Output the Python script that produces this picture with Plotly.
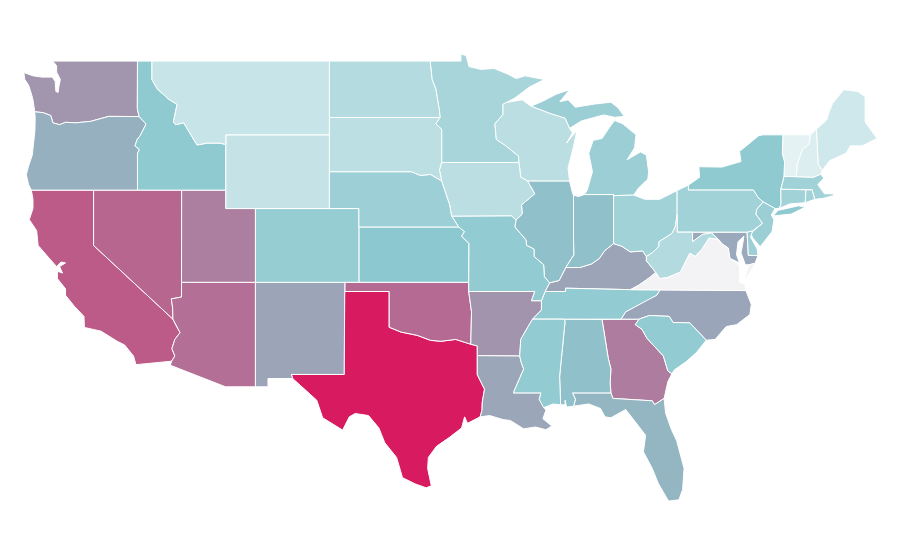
import plotly.graph_objects as go
from plotly.colors import sample_colorscale

states = ["TX","CA","NV","AZ","OK","UT","GA","WA","AR","KY","NM","NC","LA","MD","OR","FL","IL","IN","AL","KS","ID","NY","TN","MS","SC","MO","CO","NJ","MI","DE","NE","OH","PA","CT","RI","MA","MN","WV","ND","WI","IA","SD","WY","MT","ME","NH","VT","VA"]
values = [100,72.7,67.5,63.6,65.8,57,58,47,47.5,40.6,40.6,40,39.7,38.5,35.4,33,28.5,28.5,28.5,25,23.9,23.9,23.4,23.4,23.4,23.4,22.3,21.2,21.2,20.6,20.6,19.5,19.5,19.5,19.5,19.5,17.9,15.1,14.6,13,13,12.4,10.2,9.7,7.5,4.2,2,0]

colorscale = [[0,"#f3f3f5"],[0.02,"#e4f2f4"],[0.25,"#8cc8cf"],[1,"#d81b60"]]

# state outlines, lon/lat. the cdn topojson can't be loaded here so they are kept in the file
outlines = {
"WA":[[(-117.03,49),(-117.04,46.42),(-116.92,45.99),(-118.98,46),(-119.3,45.93),(-120.2,45.73),(-121.2,45.65),(-121.9,45.68),(-122.3,45.55),(-122.75,45.65),(-122.9,46.05),(-123.4,46.2),(-123.98,46.25),(-124.05,46.7),(-124.1,46.9),(-124.2,47.2),(-124.4,47.7),(-124.65,48),(-124.72,48.38),(-124.1,48.2),(-123.5,48.13),(-122.8,48.13),(-122.6,47.9),(-122.55,47.35),(-122.4,47.3),(-122.35,47.6),(-122.25,48),(-122.5,48.4),(-122.5,48.75),(-122.76,49)]],
"OR":[[(-123.98,46.25),(-123.95,45.9),(-123.97,45.2),(-124.07,44.6),(-124.15,43.9),(-124.4,43.3),(-124.55,42.84),(-124.4,42.3),(-124.21,42),(-117.03,42),(-117.03,44),(-116.9,44.2),(-117.2,44.4),(-117.05,44.75),(-116.85,44.95),(-116.5,45.5),(-116.47,45.6),(-116.7,45.8),(-116.92,45.99),(-118.98,46),(-119.3,45.93),(-120.2,45.73),(-121.2,45.65),(-121.9,45.68),(-122.3,45.55),(-122.75,45.65),(-122.9,46.05),(-123.4,46.2)]],
"CA":[[(-124.21,42),(-124.1,41.5),(-124.1,41),(-124.35,40.4),(-123.85,39.8),(-123.75,39),(-123,38.3),(-122.5,37.85),(-122.2,38.1),(-121.9,38.05),(-122.3,37.85),(-122.1,37.5),(-122.45,37.6),(-122.45,37.2),(-121.9,36.65),(-121.9,36.3),(-121.3,35.7),(-120.65,35.15),(-120.62,34.55),(-119.5,34.35),(-118.8,34),(-118.4,33.8),(-117.9,33.6),(-117.3,33),(-117.13,32.53),(-114.72,32.72),(-114.5,33),(-114.7,33.4),(-114.5,33.9),(-114.15,34.27),(-114.45,34.7),(-114.63,35),(-120,39),(-120,42)]],
"NV":[[(-120,42),(-120,39),(-114.63,35),(-114.65,35.6),(-114.74,36.1),(-114.05,36.2),(-114.05,37),(-114.04,42)]],
"AZ":[[(-114.05,37),(-114.05,36.2),(-114.74,36.1),(-114.65,35.6),(-114.63,35),(-114.45,34.7),(-114.15,34.27),(-114.5,33.9),(-114.7,33.4),(-114.5,33),(-114.72,32.72),(-114.81,32.5),(-111.07,31.33),(-109.05,31.33),(-109.05,37)]],
"UT":[[(-114.04,42),(-111.05,42),(-111.05,41),(-109.05,41),(-109.05,37),(-114.05,37)]],
"ID":[[(-117.03,49),(-116.05,49),(-116.05,48),(-115.7,47.5),(-114.95,46.95),(-114.35,46.65),(-114.6,45.7),(-114.45,45.55),(-113.9,45.65),(-113.45,45.05),(-113,44.45),(-112.3,44.55),(-111.5,44.55),(-111.05,44.48),(-111.05,42),(-117.03,42),(-117.03,44),(-116.9,44.2),(-117.2,44.4),(-117.05,44.75),(-116.85,44.95),(-116.5,45.5),(-116.47,45.6),(-116.7,45.8),(-116.92,45.99),(-117.04,46.42)]],
"MT":[[(-116.05,49),(-104.05,49),(-104.05,45),(-111.05,45),(-111.05,44.48),(-111.5,44.55),(-112.3,44.55),(-113,44.45),(-113.45,45.05),(-113.9,45.65),(-114.45,45.55),(-114.6,45.7),(-114.35,46.65),(-114.95,46.95),(-115.7,47.5),(-116.05,48)]],
"WY":[[(-111.05,45),(-104.05,45),(-104.05,41),(-111.05,41)]],
"CO":[[(-109.05,41),(-102.05,41),(-102.05,37),(-109.05,37)]],
"NM":[[(-109.05,37),(-103,37),(-103.05,32),(-106.62,32),(-106.53,31.78),(-108.2,31.78),(-108.2,31.33),(-109.05,31.33)]],
"TX":[[(-103.04,36.5),(-100,36.5),(-100,34.56),(-99.2,34.3),(-98.1,34.12),(-97.2,33.85),(-96.5,33.8),(-95.5,33.9),(-94.48,33.64),(-94.04,33.55),(-94.04,33.02),(-94.04,31.99),(-93.55,31.2),(-93.7,30.5),(-93.72,30.05),(-93.85,29.7),(-94.7,29.35),(-94.9,29.7),(-95.1,29.1),(-95.9,28.6),(-96.8,28.1),(-97.35,27.5),(-97.4,26.9),(-97.15,25.96),(-97.5,25.85),(-98.2,26.05),(-99.1,26.4),(-99.5,27.5),(-100.3,28.3),(-100.7,29.1),(-101.4,29.77),(-102.3,29.88),(-102.7,29.7),(-103.15,28.98),(-104.5,29.65),(-104.9,30.6),(-106,31.4),(-106.53,31.78),(-106.62,32),(-103.05,32)]],
"OK":[[(-103,37),(-94.62,37),(-94.62,36.5),(-94.43,35.4),(-94.48,33.64),(-95.5,33.9),(-96.5,33.8),(-97.2,33.85),(-98.1,34.12),(-99.2,34.3),(-100,34.56),(-100,36.5),(-103,36.5)]],
"KS":[[(-102.05,40),(-95.3,40),(-94.9,39.75),(-95.1,39.5),(-94.6,39.1),(-94.62,37),(-102.05,37)]],
"NE":[[(-104.05,43),(-98.5,43),(-97.9,42.8),(-97.2,42.85),(-96.45,42.5),(-96.1,41.7),(-95.9,41.2),(-95.77,40.59),(-95.3,40),(-102.05,40),(-102.05,41),(-104.05,41)]],
"SD":[[(-104.05,45.94),(-96.56,45.94),(-96.85,45.6),(-96.45,45.3),(-96.45,43.5),(-96.6,43.1),(-96.45,42.5),(-97.2,42.85),(-97.9,42.8),(-98.5,43),(-104.05,43)]],
"ND":[[(-104.05,49),(-97.23,49),(-97.1,48),(-96.85,47.5),(-96.6,46.3),(-96.56,45.94),(-104.05,45.94)]],
"MN":[[(-97.23,49),(-95.15,49),(-95.15,49.38),(-94.8,49.3),(-94.6,48.7),(-93.8,48.55),(-92.9,48.6),(-92,48.3),(-91.4,48.05),(-90.8,48.2),(-89.5,48),(-90.5,47.6),(-91.5,47),(-92.1,46.75),(-92.3,46.65),(-92.3,46.1),(-92.85,45.6),(-92.75,44.75),(-92.1,44.4),(-91.25,43.85),(-91.22,43.5),(-96.45,43.5),(-96.45,45.3),(-96.85,45.6),(-96.56,45.94),(-96.6,46.3),(-96.85,47.5),(-97.1,48)]],
"IA":[[(-96.45,43.5),(-91.22,43.5),(-91.1,42.7),(-90.65,42.5),(-90.15,41.8),(-91.05,41.2),(-91,40.7),(-91.42,40.38),(-91.73,40.61),(-95.77,40.59),(-95.9,41.2),(-96.1,41.7),(-96.45,42.5),(-96.6,43.1)]],
"MO":[[(-95.77,40.59),(-91.73,40.61),(-91.42,40.38),(-91.5,40),(-90.75,39.3),(-90.7,39),(-90.2,38.8),(-90.2,38.4),(-89.55,37.95),(-89.5,37.3),(-89.15,36.97),(-89.45,36.5),(-89.7,36),(-90.37,36),(-90.15,36.5),(-94.62,36.5),(-94.62,37),(-94.6,39.1),(-95.1,39.5),(-94.9,39.75),(-95.3,40)]],
"AR":[[(-94.62,36.5),(-90.15,36.5),(-90.37,36),(-89.7,36),(-89.7,35.5),(-90.1,35.13),(-90.3,35),(-90.6,34.6),(-91.1,33.9),(-91.17,33),(-94.04,33.02),(-94.04,33.55),(-94.48,33.64),(-94.43,35.4)]],
"LA":[[(-94.04,33.02),(-91.17,33),(-91.05,32.6),(-90.9,32.3),(-91.6,31),(-89.73,31),(-89.85,30.65),(-89.55,30.2),(-89.4,30.05),(-89.6,29.6),(-89,29.2),(-89.4,29),(-90.1,29.15),(-90.9,29.05),(-91.8,29.5),(-92.3,29.55),(-93.2,29.77),(-93.85,29.7),(-93.72,30.05),(-93.7,30.5),(-93.55,31.2),(-94.04,31.99)]],
"MS":[[(-90.3,35),(-88.2,35),(-88.1,34.9),(-88.47,31.9),(-88.4,30.35),(-88.9,30.4),(-89.55,30.2),(-89.85,30.65),(-89.73,31),(-91.6,31),(-90.9,32.3),(-91.05,32.6),(-91.17,33),(-91.1,33.9),(-90.6,34.6)]],
"AL":[[(-88.2,35),(-85.6,34.98),(-85.18,32.87),(-85,32.3),(-85.05,31.55),(-85,31),(-87.6,31),(-87.4,30.65),(-87.52,30.28),(-88,30.23),(-88.1,30.6),(-88.1,30.35),(-88.4,30.35),(-88.47,31.9),(-88.1,34.9)]],
"GA":[[(-85.6,34.98),(-83.1,35),(-83.35,34.7),(-82.9,34.45),(-82.55,33.95),(-81.9,33.4),(-81.45,33),(-81.15,32.2),(-80.88,32.03),(-81.15,31.6),(-81.4,30.7),(-82.05,30.36),(-82.2,30.57),(-84.86,30.7),(-85,31),(-85.05,31.55),(-85,32.3),(-85.18,32.87)]],
"FL":[[(-87.6,31),(-85,31),(-84.86,30.7),(-82.2,30.57),(-82.05,30.36),(-81.4,30.7),(-81.3,29.9),(-80.9,29),(-80.55,28.4),(-80.05,26.9),(-80.15,25.75),(-80.4,25.2),(-81.1,25.13),(-81.8,26.1),(-82.2,26.9),(-82.8,27.8),(-82.65,28.7),(-83.4,29.5),(-84,30.1),(-85,29.65),(-85.4,29.7),(-85.7,30.15),(-86.5,30.4),(-87.52,30.28),(-87.4,30.65)]],
"SC":[[(-83.35,34.7),(-83.1,35),(-82.4,35.2),(-81.05,35.15),(-80.8,34.82),(-79.67,34.8),(-78.55,33.86),(-79.2,33.2),(-79.9,32.7),(-80.7,32.25),(-80.88,32.03),(-81.15,32.2),(-81.45,33),(-81.9,33.4),(-82.55,33.95),(-82.9,34.45)]],
"NC":[[(-84.32,35),(-83.1,35),(-82.4,35.2),(-81.05,35.15),(-80.8,34.82),(-79.67,34.8),(-78.55,33.86),(-77.95,33.9),(-77.2,34.6),(-76.5,34.7),(-75.6,35.25),(-75.5,35.8),(-75.87,36.55),(-81.68,36.59),(-81.9,36.3),(-82.6,36.03),(-83.2,35.75),(-84,35.4)]],
"TN":[[(-90.3,35),(-88.2,35),(-85.6,34.98),(-84.32,35),(-84,35.4),(-83.2,35.75),(-82.6,36.03),(-81.9,36.3),(-81.68,36.59),(-83.68,36.6),(-88.07,36.68),(-88.07,36.5),(-89.45,36.5),(-89.7,36),(-89.7,35.5),(-90.1,35.13)]],
"KY":[[(-89.45,36.5),(-88.07,36.5),(-88.07,36.68),(-83.68,36.6),(-83.1,36.85),(-82.3,37.3),(-81.97,37.54),(-82.6,38.17),(-82.6,38.4),(-82.85,38.7),(-83.7,38.65),(-84.25,38.95),(-84.82,39.1),(-85.4,38.73),(-85.8,38.28),(-86.3,38),(-87.1,37.8),(-88.05,37.8),(-88.5,37.1),(-89.15,36.97)]],
"VA":[[(-83.68,36.6),(-81.68,36.59),(-75.87,36.55),(-75.95,36.9),(-76.3,37),(-76.3,37.5),(-76.3,37.9),(-76.95,38.3),(-77.05,38.7),(-77.05,38.85),(-77.5,39.1),(-77.72,39.32),(-78.35,39.4),(-78.87,38.76),(-79.3,38.4),(-79.65,38.58),(-80.3,37.55),(-81.2,37.25),(-81.7,37.2),(-81.97,37.54),(-82.3,37.3),(-83.1,36.85)],[(-75.97,37.15),(-75.65,37.95),(-75.25,38.03),(-75.6,37.5)]],
"WV":[[(-81.97,37.54),(-81.7,37.2),(-81.2,37.25),(-80.3,37.55),(-79.65,38.58),(-79.3,38.4),(-78.87,38.76),(-78.35,39.4),(-77.72,39.32),(-78.2,39.68),(-78.8,39.6),(-79.48,39.2),(-79.48,39.72),(-80.52,39.72),(-80.52,40.64),(-80.65,40),(-80.87,39.65),(-81.75,39.2),(-81.75,38.95),(-82.2,38.6),(-82.6,38.4),(-82.6,38.17)]],
"OH":[[(-84.82,41.7),(-83.45,41.73),(-82.7,41.5),(-81.7,41.5),(-80.52,41.98),(-80.52,40.64),(-80.65,40),(-80.87,39.65),(-81.75,39.2),(-81.75,38.95),(-82.2,38.6),(-82.6,38.4),(-82.85,38.7),(-83.7,38.65),(-84.25,38.95),(-84.82,39.1)]],
"IN":[[(-87.53,41.72),(-87.2,41.65),(-86.8,41.76),(-84.82,41.76),(-84.82,39.1),(-85.4,38.73),(-85.8,38.28),(-86.3,38),(-87.1,37.8),(-88.05,37.8),(-87.5,38.5),(-87.53,39.35)]],
"IL":[[(-90.65,42.5),(-87.8,42.5),(-87.6,41.85),(-87.53,41.72),(-87.53,39.35),(-87.5,38.5),(-88.05,37.8),(-88.5,37.1),(-89.15,36.97),(-89.5,37.3),(-89.55,37.95),(-90.2,38.4),(-90.2,38.8),(-90.7,39),(-90.75,39.3),(-91.5,40),(-91.42,40.38),(-91,40.7),(-91.05,41.2),(-90.15,41.8)]],
"WI":[[(-92.1,46.75),(-91,46.9),(-90.4,46.55),(-89.1,46.15),(-88.1,45.9),(-87.8,45.35),(-87.6,45.1),(-88,44.55),(-87.3,45.25),(-87.55,44.3),(-87.9,43.2),(-87.8,42.5),(-90.65,42.5),(-91.1,42.7),(-91.22,43.5),(-91.25,43.85),(-92.1,44.4),(-92.75,44.75),(-92.85,45.6),(-92.3,46.1),(-92.3,46.65)]],
"MI":[[(-86.8,41.76),(-84.82,41.76),(-84.82,41.7),(-83.45,41.73),(-83.15,42.1),(-82.5,42.6),(-82.45,43),(-82.6,43.9),(-83,44.07),(-83.9,43.65),(-83.4,44.3),(-83.3,45),(-84.2,45.6),(-84.75,45.78),(-85.1,45.4),(-85.6,44.8),(-86.2,44.7),(-86.5,44),(-86.25,43),(-86.6,42)],[(-90.4,46.55),(-89.1,46.15),(-88.1,45.9),(-87.8,45.35),(-87,45.75),(-86.3,45.9),(-85.5,46.08),(-84.75,45.95),(-84.1,46),(-84.5,46.45),(-85,46.77),(-86.1,46.67),(-87.4,46.5),(-87.9,46.9),(-88.45,46.8),(-87.8,47.45),(-88.7,47.2),(-89.6,46.83)]],
"PA":[[(-80.52,41.98),(-79.76,42.27),(-79.76,42),(-75.35,42),(-75.05,41.6),(-74.7,41.36),(-75.13,40.97),(-75.2,40.7),(-74.75,40.2),(-75.4,39.8),(-75.79,39.72),(-80.52,39.72)]],
"NY":[[(-79.76,42.27),(-79,42.7),(-79.05,43.27),(-77.5,43.25),(-76.2,43.55),(-76.3,44.1),(-75,44.95),(-74.7,45),(-73.35,45),(-73.4,44),(-73.25,43.55),(-73.28,42.75),(-73.5,42.05),(-73.49,41.2),(-73.65,41),(-73.9,41),(-74.7,41.36),(-75.05,41.6),(-75.35,42),(-79.76,42)],[(-74.03,40.6),(-73.7,40.9),(-72.3,41.15),(-71.87,41.07),(-72.8,40.7),(-74,40.58)]],
"NJ":[[(-75.13,40.97),(-74.7,41.36),(-73.9,41),(-74.15,40.65),(-73.97,40.4),(-74.1,39.75),(-74.9,38.93),(-75.4,39.4),(-75.55,39.65),(-74.75,40.2),(-75.2,40.7)]],
"DE":[[(-75.79,39.72),(-75.4,39.8),(-75.55,39.45),(-75.1,38.8),(-75.05,38.45),(-75.7,38.46)]],
"MD":[[(-79.48,39.72),(-75.79,39.72),(-75.7,38.46),(-75.05,38.45),(-75.25,38.03),(-75.65,37.95),(-75.9,37.95),(-76.2,38.6),(-76.1,39),(-76,39.5),(-76.4,39.2),(-76.5,38.5),(-76.3,38.05),(-76.95,38.3),(-77.05,38.7),(-77.05,38.85),(-77.5,39.1),(-77.72,39.32),(-78.2,39.68),(-78.8,39.6),(-79.48,39.2)]],
"CT":[[(-73.5,42.05),(-71.8,42.02),(-71.85,41.32),(-72.9,41.25),(-73.65,41),(-73.49,41.2)]],
"RI":[[(-71.8,42.02),(-71.38,42.02),(-71.2,41.5),(-71.85,41.32)]],
"MA":[[(-73.5,42.05),(-73.28,42.75),(-72.45,42.73),(-71.3,42.7),(-70.8,42.87),(-70.6,42.65),(-71,42.3),(-70.55,41.8),(-70,41.8),(-70,42.05),(-69.95,41.7),(-70.65,41.55),(-71.2,41.5),(-71.38,42.02),(-71.8,42.02)]],
"VT":[[(-73.35,45),(-71.5,45),(-71.6,44.5),(-72.05,44.2),(-72.4,43.4),(-72.45,42.73),(-73.28,42.75),(-73.25,43.55),(-73.4,44)]],
"NH":[[(-71.5,45),(-71.1,45.3),(-70.98,43.4),(-70.7,43.07),(-70.8,42.87),(-71.3,42.7),(-72.45,42.73),(-72.4,43.4),(-72.05,44.2),(-71.6,44.5)]],
"ME":[[(-71.1,45.3),(-70.4,45.8),(-70.25,46.2),(-70,46.7),(-69.25,47.45),(-68.3,47.35),(-67.8,47.07),(-67.8,45.7),(-67.45,45.3),(-67,44.8),(-68,44.4),(-68.8,44.4),(-69.1,44),(-70.2,43.6),(-70.7,43.07),(-70.98,43.4)]],
}

fig = go.Figure()

for state, val in zip(states, values):
    lon = []
    lat = []
    for part in outlines[state]:
        lon += [p[0] for p in part] + [part[0][0], None]
        lat += [p[1] for p in part] + [part[0][1], None]
    fig.add_trace(go.Scatter(x=lon, y=lat, name=state, mode="lines", fill="toself",
                             fillcolor=sample_colorscale(colorscale, val/100)[0],
                             line=dict(color="white", width=1), showlegend=False))

# page has an 8px body margin, ranges are shifted to make up for it
fig.update_xaxes(visible=False, range=[-125.79, -64.9])
fig.update_yaxes(visible=False, range=[21.5, 51.88])
fig.update_layout(width=900, height=560, margin=dict(l=0, r=0, t=0, b=0),
                  paper_bgcolor="white", plot_bgcolor="white")
fig.write_html("out.html")
